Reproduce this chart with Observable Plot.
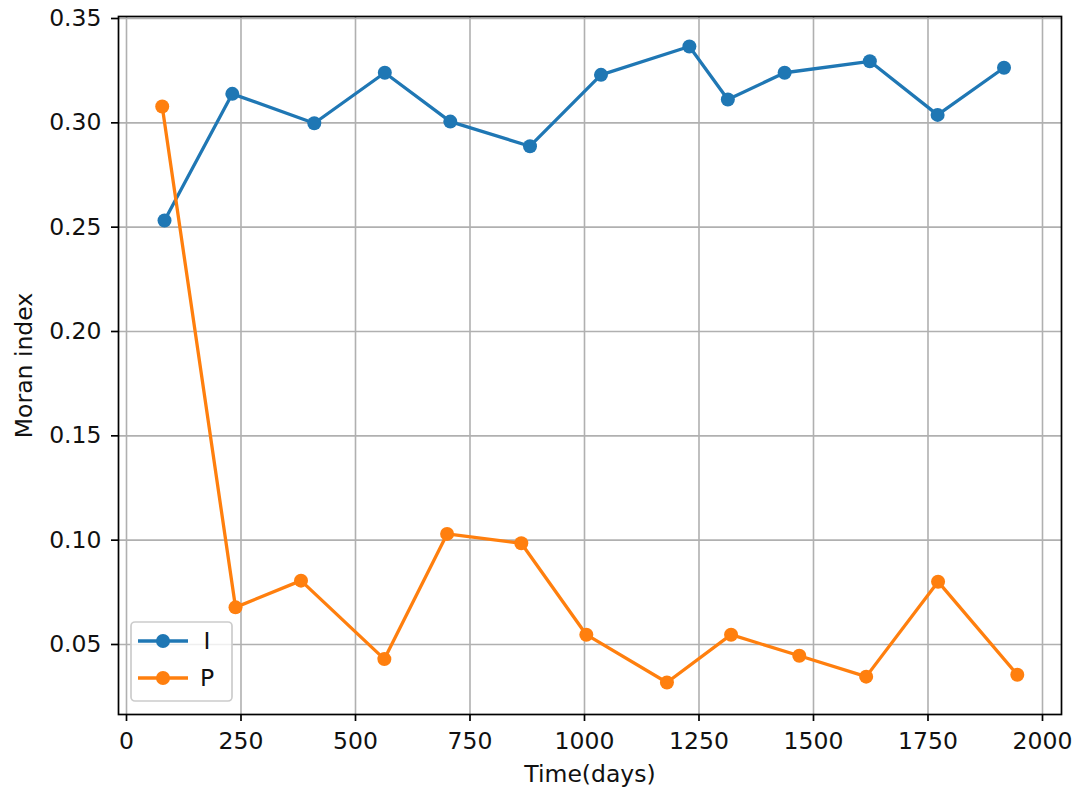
<!DOCTYPE html>
<html>
<head>
<meta charset="utf-8">
<script src="https://cdn.jsdelivr.net/npm/d3@7"></script>
<script src="https://cdn.jsdelivr.net/npm/@observablehq/plot@0.6"></script>
<style>
  html, body { margin: 0; padding: 0; background: white; }
  #chart { position: relative; width: 1078px; height: 793px; }
</style>
</head>
<body>
<div id="chart"></div>
<script>
// Series I
const daysI = [83, 231, 410, 564, 707, 881, 1036, 1229, 1313, 1437, 1623, 1771, 1916];
const moranI = [0.2532, 0.3139, 0.2998, 0.3240, 0.3006, 0.2888, 0.3230, 0.3366, 0.3112, 0.3240, 0.3295, 0.3038, 0.3264];
// Series P
const daysP = [78, 238, 381, 563, 700, 862, 1004, 1180, 1320, 1469, 1615, 1772, 1945];
const moranP = [0.3078, 0.0678, 0.0806, 0.0430, 0.1030, 0.0985, 0.0547, 0.0318, 0.0547, 0.0446, 0.0346, 0.0801, 0.0355];
// Ticks
const xTicks = [0, 250, 500, 750, 1000, 1250, 1500, 1750, 2000];
const yTicks = [0.05, 0.10, 0.15, 0.20, 0.25, 0.30, 0.35];
const seriesNames = ["I", "P"];
const seriesColors = ["#1f77b4", "#ff7f0e"];

const dataI = daysI.map((d, i) => ({day: d, value: moranI[i]}));
const dataP = daysP.map((d, i) => ({day: d, value: moranP[i]}));

const FONT = "DejaVu Sans";
const FS = 23.5;
const LW = 3.3;
const R = 7;

const chart = Plot.plot({
  width: 1078,
  height: 793,
  marginLeft: 118,
  marginRight: 17,
  marginTop: 16,
  marginBottom: 79,
  x: {domain: [-17.47, 2041.5]},
  y: {domain: [0.01645, 0.35096]},
  style: {fontFamily: FONT, fontSize: FS + "px", color: "#111", background: "white", overflow: "visible"},
  marks: [
    Plot.gridX(xTicks, {stroke: "#b0b0b0", strokeOpacity: 1, strokeWidth: 1.6}),
    Plot.gridY(yTicks, {stroke: "#b0b0b0", strokeOpacity: 1, strokeWidth: 1.6}),
    Plot.line(dataI, {x: "day", y: "value", stroke: seriesColors[0], strokeWidth: LW}),
    Plot.dot(dataI, {x: "day", y: "value", r: R, fill: seriesColors[0], stroke: "none"}),
    Plot.line(dataP, {x: "day", y: "value", stroke: seriesColors[1], strokeWidth: LW}),
    Plot.dot(dataP, {x: "day", y: "value", r: R, fill: seriesColors[1], stroke: "none"}),
    Plot.frame({stroke: "black", strokeWidth: 1.7}),
    Plot.axisX({ticks: xTicks, tickSize: 7, tickPadding: 11, strokeWidth: 1.7, stroke: "black",
      tickFormat: d3.format("d"), label: null, fontSize: FS}),
    Plot.axisY({ticks: yTicks, tickSize: 7, tickPadding: 10, strokeWidth: 1.7, stroke: "black",
      tickFormat: d3.format(".2f"), label: null, fontSize: FS}),
    Plot.text(["Time(days)"], {text: d => d, frameAnchor: "bottom", dy: 59.5, lineAnchor: "middle", textAnchor: "middle", fontSize: FS}),
    Plot.text(["Moran index"], {text: d => d, frameAnchor: "left", dx: -94, rotate: -90, lineAnchor: "middle", textAnchor: "middle", fontSize: FS})
  ]
});

document.getElementById("chart").appendChild(chart);

// Legend (matplotlib style, lower left inside the axes)
const svg = d3.select(chart);
const lg = svg.append("g").attr("font-family", FONT).attr("font-size", FS);
lg.append("rect")
  .attr("x", 131).attr("y", 622).attr("width", 101).attr("height", 79)
  .attr("rx", 4).attr("fill", "white").attr("fill-opacity", 0.8)
  .attr("stroke", "#cccccc").attr("stroke-width", 1.7);
seriesNames.forEach((name, i) => {
  const cy = 641 + i * 37;
  lg.append("line").attr("x1", 138).attr("x2", 188).attr("y1", cy).attr("y2", cy)
    .attr("stroke", seriesColors[i]).attr("stroke-width", LW);
  lg.append("circle").attr("cx", 163).attr("cy", cy).attr("r", R).attr("fill", seriesColors[i]);
  lg.append("text").attr("x", 207).attr("y", cy).attr("dy", "0.36em").attr("fill", "#111").text(name);
});
</script>
</body>
</html>
